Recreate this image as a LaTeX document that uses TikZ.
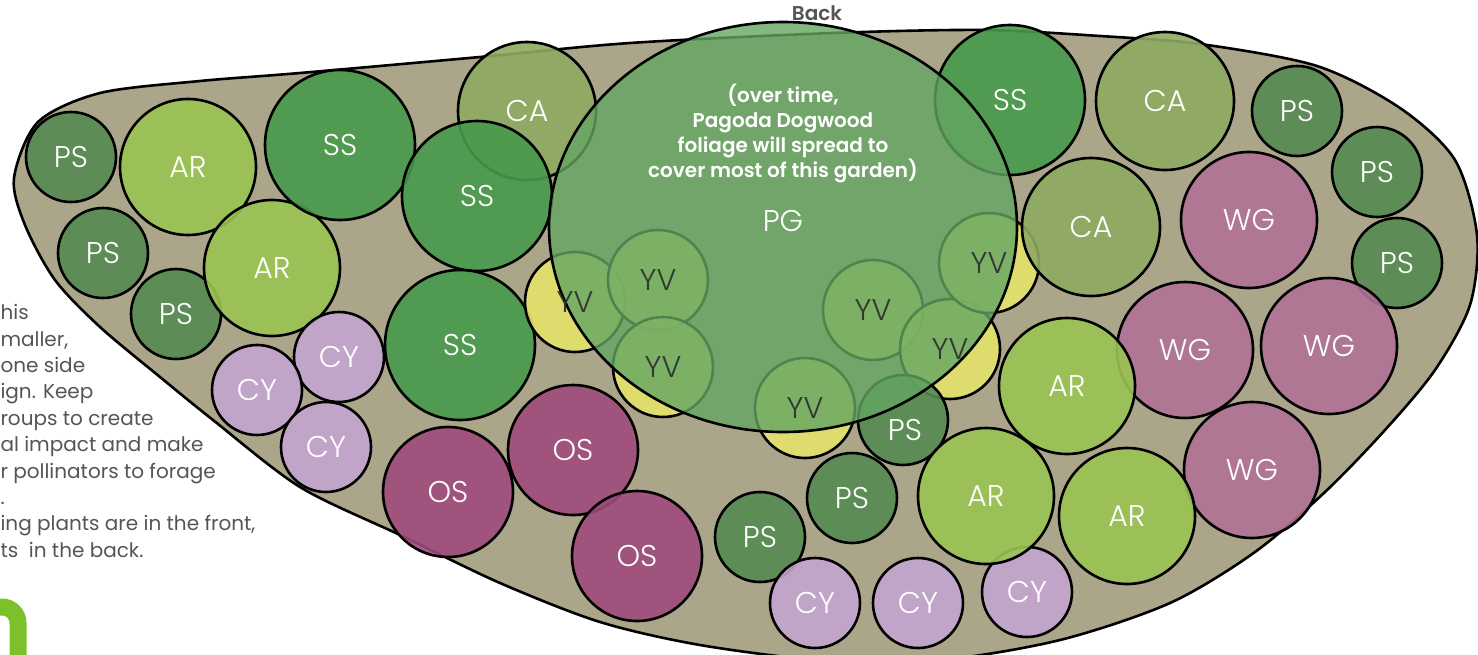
\documentclass[tikz,border=0pt]{standalone}
\usepackage{fontspec}
\setmainfont{Poppins}[UprightFont={* Light}, BoldFont={* SemiBold}]
\newfontfamily\tipsfont{Poppins}
\usetikzlibrary{shapes.geometric}

\definecolor{bedtan}{RGB}{171,165,138}
\definecolor{psgreen}{RGB}{85,138,82}
\definecolor{argreen}{RGB}{155,195,83}
\definecolor{ssgreen}{RGB}{71,154,75}
\definecolor{caolive}{RGB}{142,170,98}
\definecolor{cylilac}{RGB}{196,165,207}
\definecolor{osplum}{RGB}{158,75,124}
\definecolor{wgmauve}{RGB}{176,114,150}
\definecolor{yvyellow}{RGB}{227,226,106}
\definecolor{pggreen}{RGB}{100,166,98}
\definecolor{inkgray}{RGB}{85,85,85}
\definecolor{yvink}{RGB}{51,56,51}
\definecolor{logogreen}{RGB}{124,192,42}

\tikzset{
    plant/.style={circle, draw=black, line width=2.6pt, inner sep=0pt,
        fill opacity=0.9, text opacity=1, text=white,
        font=\fontsize{30}{30}\selectfont},
    ps/.style={plant, fill=psgreen, minimum size=90pt},
    ar/.style={plant, fill=argreen, minimum size=136pt},
    ss/.style={plant, fill=ssgreen, minimum size=150pt},
    ca/.style={plant, fill=caolive, minimum size=138pt},
    cy/.style={plant, fill=cylilac, minimum size=90pt},
    os/.style={plant, fill=osplum, minimum size=130pt},
    wg/.style={plant, fill=wgmauve, minimum size=136pt},
    yv/.style={plant, fill=yvyellow, minimum size=100pt},
    pg/.style={ellipse, draw=black, line width=2.6pt, fill=pggreen,
        fill opacity=0.8, minimum width=468pt, minimum height=410pt},
    tag/.style={text=white, font=\fontsize{30}{30}\selectfont},
    yvtag/.style={tag, text=yvink},
    note/.style={text=white, align=center, font=\bfseries\fontsize{20}{25}\selectfont},
    tips/.style={text=inkgray, align=left, font=\tipsfont\fontsize{20}{26.4}\selectfont}
}

\begin{document}
\begin{tikzpicture}[x=1pt, y=-1pt]
    \useasboundingbox (0, 0) rectangle (1478, 654);
    \clip (0, 0) rectangle (1478, 654);

    \path [draw=black, line width=2.6pt, fill=bedtan] plot [smooth cycle] coordinates {
        (14, 178) (38, 122) (100, 93) (200, 81) (300, 73) (480, 57) (630, 43)
        (833, 33) (983, 30) (1100, 36) (1200, 44) (1317, 66) (1400, 108)
        (1455, 160) (1477, 235) (1470, 305) (1435, 370) (1385, 430)
        (1325, 492) (1255, 552) (1170, 603) (1060, 640) (940, 660)
        (820, 660) (700, 645) (600, 622) (500, 583) (400, 535) (300, 487)
        (213, 420) (160, 377) (100, 327) (55, 280) (25, 225)};

    \path (817, 13) node [text=inkgray, font=\bfseries\fontsize{20}{20}\selectfont] (back) {Back};

    \path (-3, 301) node [tips, anchor=north west] (tiptext) {his\\maller,\\one side\\ign. Keep\\roups to create\\al impact and make\\r pollinators to forage\\.\\ing plants are in the front,\\ts\ \ in the back.};
    \draw [logogreen, line width=17pt] (-20, 607) -- (2, 607) to [out=0, in=90] (18, 623) -- (18, 670);

    \path (71, 157) node [ps] (ps1) {PS};
    \path (103, 253) node [ps] (ps2) {PS};
    \path (176, 314) node [ps] (ps3) {PS};
    \path (188, 167) node [ar] (ar1) {AR};
    \path (272, 268) node [ar] (ar2) {AR};
    \path (340, 145) node [ss] (ss1) {SS};
    \path (527, 111) node [ca] (ca1) {CA};
    \path (477, 196) node [ss] (ss2) {SS};
    \path (460, 345) node [ss] (ss3) {SS};
    \path (339, 357) node [cy] (cy1) {CY};
    \path (257, 390) node [cy] (cy2) {CY};
    \path (326, 447) node [cy] (cy3) {CY};
    \path (448, 492) node [os] (os1) {OS};
    \path (573, 450) node [os] (os2) {OS};
    \path (637, 556) node [os] (os3) {OS};

    \path (575, 302) node [yv] (yv1) {};
    \path (658, 280) node [yv] (yv2) {};
    \path (663, 367) node [yv] (yv3) {};
    \path (805, 408) node [yv] (yv4) {};
    \path (873, 310) node [yv] (yv5) {};
    \path (950, 349) node [yv] (yv6) {};
    \path (989, 263) node [yv] (yv7) {};
    \path (903, 420) node [ps] (ps4) {};
    \path (760, 537) node [ps] (ps5) {PS};
    \path (852, 498) node [ps] (ps6) {PS};
    \path (815, 603) node [cy] (cy4) {CY};
    \path (918, 603) node [cy] (cy5) {CY};
    \path (1027, 592) node [cy] (cy6) {CY};

    \path (1010, 100) node [ss] (ss4) {SS};
    \path (1165, 101) node [ca] (ca2) {CA};
    \path (1297, 111) node [ps] (ps7) {PS};
    \path (1377, 172) node [ps] (ps8) {PS};
    \path (1397, 263) node [ps] (ps9) {PS};
    \path (1091, 227) node [ca] (ca3) {CA};
    \path (1249, 220) node [wg] (wg1) {WG};
    \path (1185, 350) node [wg] (wg2) {WG};
    \path (1329, 346) node [wg] (wg3) {WG};
    \path (1252, 470) node [wg] (wg4) {WG};
    \path (1067, 386) node [ar] (ar3) {AR};
    \path (986, 496) node [ar] (ar4) {AR};
    \path (1127, 516) node [ar] (ar5) {AR};

    \path (783, 227) node [pg] (pg) {};
    \path (783, 133) node [note] (pgnote) {(over time,\\Pagoda Dogwood\\foliage will spread to\\cover most of this garden)};
    \path (783, 221) node [tag] (pgtag) {PG};

    \path (yv1) node [yvtag] {YV};
    \path (yv2) node [yvtag] {YV};
    \path (yv3) node [yvtag] {YV};
    \path (yv4) node [yvtag] {YV};
    \path (yv5) node [yvtag] {YV};
    \path (yv6) node [yvtag] {YV};
    \path (yv7) node [yvtag] {YV};
    \path (ps4) ++(2, 10) node [tag] {PS};
\end{tikzpicture}
\end{document}
